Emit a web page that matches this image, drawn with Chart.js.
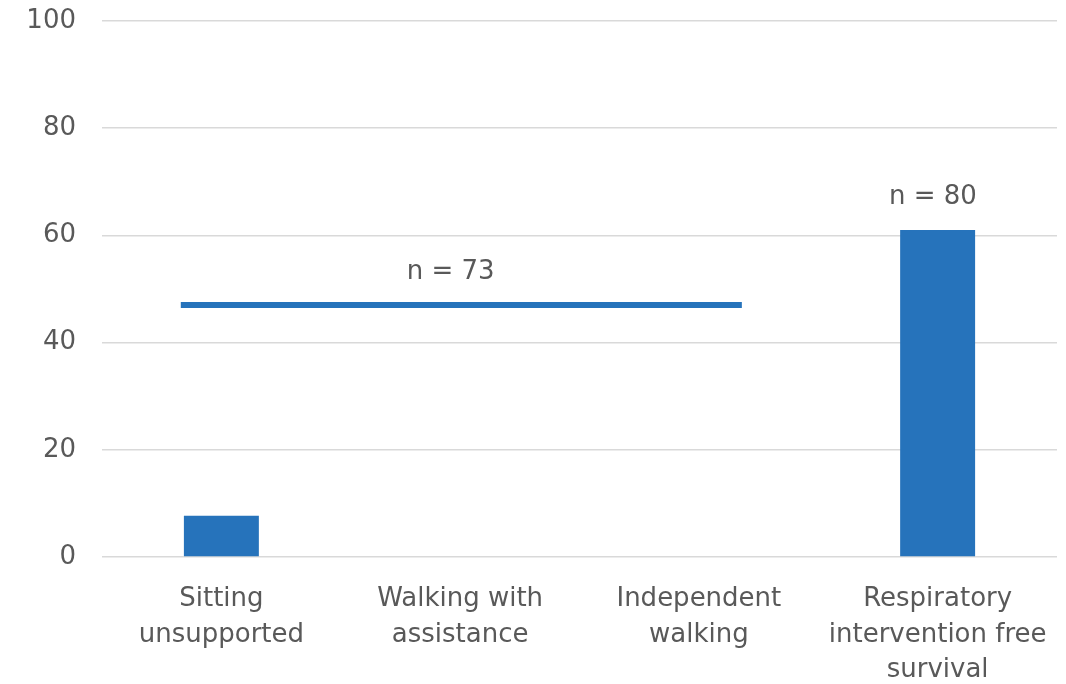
<!DOCTYPE html>
<html>
<head>
<meta charset="utf-8">
<script src="https://cdn.jsdelivr.net/npm/chart.js@4/dist/chart.umd.min.js"></script>
<style>
  html, body { margin: 0; padding: 0; background: #fff; }
  #wrap { width: 1066px; height: 684px; }
</style>
</head>
<body>
<div id="wrap"><canvas id="chart"></canvas></div>
<script>
'use strict';

// data
let categories = [
  ['Sitting', 'unsupported'],
  ['Walking with', 'assistance'],
  ['Independent', 'walking'],
  ['Respiratory', 'intervention free', 'survival']
];
let barValues = [7.7, null, null, 61];

// horizontal line across the first three milestones
let lineX = [0.33, 2.68];
let lineY = [47, 47];

// n labels
let noteText = ['n = 73', 'n = 80'];
let noteX = [1.46, 3.48];
let noteY = [47, 61];

let yTicks = [0, 20, 40, 60, 80, 100];

let blue = '#2673BB';
let grey = '#595959';
let fontName = "'DejaVu Sans', 'Liberation Sans', sans-serif";

// draw the n = .. texts above the marks
let noteLabels = {
  id: 'noteLabels',
  afterDatasetsDraw(chart) {
    let ctx = chart.ctx;
    let xs = chart.scales.x2;
    let ys = chart.scales.y;
    ctx.save();
    ctx.font = '26px ' + fontName;
    ctx.fillStyle = grey;
    ctx.textAlign = 'center';
    ctx.textBaseline = 'middle';
    for (let i = 0; i < noteText.length; i++) {
      let px = xs.getPixelForValue(noteX[i]);
      let py = ys.getPixelForValue(noteY[i]);
      ctx.fillText(noteText[i], px, py - 33);
    }
    ctx.restore();
  }
};

let linePoints = [];
for (let i = 0; i < lineX.length; i++) {
  linePoints.push({ x: lineX[i], y: lineY[i] });
}

let ctx = document.getElementById('chart').getContext('2d');
new Chart(ctx, {
  data: {
    labels: categories,
    datasets: [
      {
        type: 'bar',
        data: barValues,
        backgroundColor: blue,
        barPercentage: 0.314,
        categoryPercentage: 1,
        grouped: false,
        xAxisID: 'x',
        order: 2
      },
      {
        type: 'line',
        data: linePoints,
        borderColor: blue,
        borderWidth: 6,
        pointRadius: 0,
        borderCapStyle: 'butt',
        xAxisID: 'x2',
        order: 1
      }
    ]
  },
  options: {
    responsive: true,
    maintainAspectRatio: false,
    animation: false,
    layout: { padding: { top: 21, right: 9, left: 0, bottom: 0 } },
    plugins: {
      legend: { display: false },
      tooltip: { enabled: false }
    },
    scales: {
      x: {
        type: 'category',
        grid: { display: false, drawTicks: false },
        border: { display: false },
        ticks: {
          color: grey,
          font: { family: fontName, size: 26, lineHeight: 1.38 },
          padding: 24,
          maxRotation: 0,
          autoSkip: false
        },
        afterFit(scale) {
          scale.height = 127;
          scale.paddingLeft = 0;
          scale.paddingRight = 0;
        }
      },
      x2: {
        type: 'linear',
        min: 0,
        max: 4,
        display: false
      },
      y: {
        min: 0,
        max: 100,
        afterBuildTicks(scale) {
          scale.ticks = yTicks.map(v => ({ value: v }));
        },
        grid: { color: '#d9d9d9', lineWidth: 1.5, drawTicks: false },
        border: { display: false },
        ticks: {
          color: grey,
          font: { family: fontName, size: 26 },
          padding: 26
        },
        afterFit(scale) {
          scale.width = 102;
          scale.paddingTop = 0;
          scale.paddingBottom = 0;
        }
      }
    }
  },
  plugins: [noteLabels]
});
</script>
</body>
</html>
